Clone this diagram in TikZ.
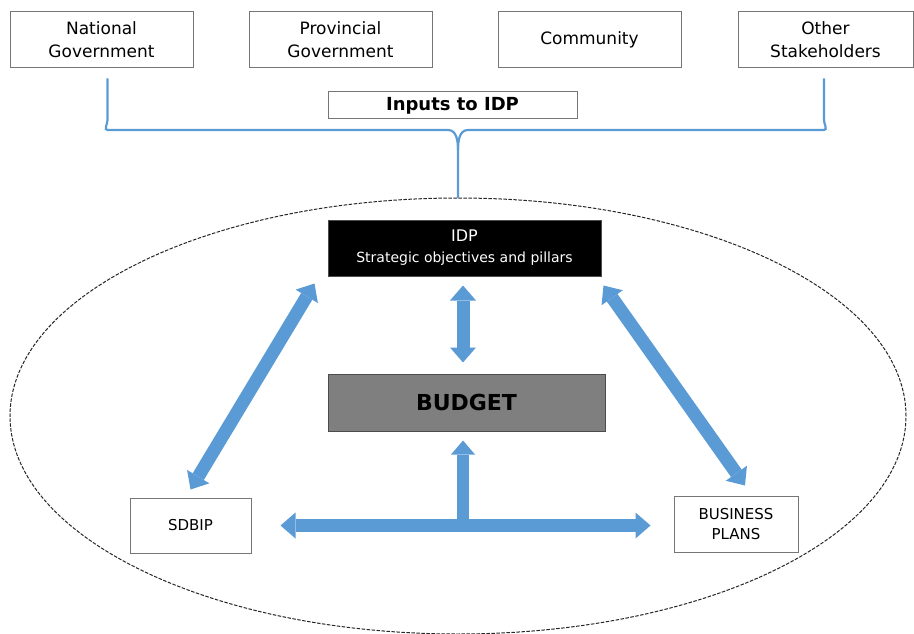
\documentclass[tikz,border=0pt]{standalone}
\usepackage{fontspec}
\setmainfont{DejaVu Sans}
\usetikzlibrary{arrows.meta}

\definecolor{linkblue}{HTML}{5B9BD5}
\definecolor{framegray}{HTML}{767676}
\definecolor{budgetgray}{HTML}{7F7F7F}

\tikzset{
  box/.style={draw=framegray, line width=1pt, fill=white, align=center, inner sep=0pt},
  fat/.style={draw=linkblue, line width=13pt,
    {Triangle[width=26pt,length=15pt,line width=0pt]}-{Triangle[width=26pt,length=15pt,line width=0pt]}},
  upfat/.style={draw=linkblue, line width=12pt, -{Triangle[width=24pt,length=14pt,line width=0pt]}},
}

\begin{document}
\begin{tikzpicture}[x=1pt,y=-1pt]
  \useasboundingbox (0,0) rectangle (914,634);

  % dashed ring round the planning cycle
  \draw[black!85, line width=1pt, dash pattern=on 3.5pt off 1.5pt] (458,416) ellipse (448pt and 218pt);

  % who feeds the IDP
  \node[box, minimum width=183pt, minimum height=56pt, font=\fontsize{17}{23}\selectfont] (nat) at (101.5,40) {National\\Government};
  \node[box, minimum width=183pt, minimum height=56pt, font=\fontsize{17}{23}\selectfont] (prov) at (340.5,40) {Provincial\\Government};
  \node[box, minimum width=183pt, minimum height=56pt, font=\fontsize{17}{23}\selectfont] (comm) at (589.5,40) {Community};
  \node[box, minimum width=175pt, minimum height=56pt, font=\fontsize{17}{23}\selectfont] (other) at (825.5,40) {Other\\Stakeholders};
  \node[box, minimum width=249pt, minimum height=27pt, font=\fontsize{18}{20}\selectfont\bfseries] (inputs) at (452.5,105.5) {Inputs to IDP};

  % the cycle itself
  \node[box, draw=black!70, fill=black, text=white, minimum width=273pt, minimum height=56pt,
    font=\fontsize{14}{21}\selectfont] (idp) at (464.5,248)
    {{\fontsize{16}{21}\selectfont IDP}\\Strategic objectives and pillars};
  \node[box, draw=black!70, fill=budgetgray, minimum width=277pt, minimum height=57pt, font=\fontsize{22}{26}\selectfont\bfseries] (budget) at (466.5,402.5) {BUDGET};
  \node[box, minimum width=121pt, minimum height=55pt, font=\fontsize{15}{20}\selectfont] (sdbip) at (190.5,525.5) {SDBIP};
  \node[box, minimum width=124pt, minimum height=56pt, font=\fontsize{15}{20}\selectfont] (bus) at (736,524) {BUSINESS\\PLANS};

  % brace gathering the inputs
  \coordinate (lft) at ([shift={(6,10)}]nat.south);
  \coordinate (rgt) at ([shift={(-1.5,10)}]other.south);
  \coordinate (fork) at (458,150);
  \coordinate (ring) at (458,198);
  \draw[linkblue, line width=2.2pt] (ring) -- (fork) to[out=90,in=0] (448,130) -- (lft |- 0,130)
      to[out=180,in=-90] (lft |- 0,120) -- (lft);
  \draw[linkblue, line width=2.2pt] (fork) to[out=90,in=180] (468,130) -- (rgt |- 0,130)
      to[out=0,in=-90] (rgt |- 0,120) -- (rgt);

  % links
  \coordinate (a) at ([shift={(-1.5,9)}]idp.south);
  \draw[fat] (a) -- ([yshift=11pt]a |- budget.north);
  \draw[fat] ([shift={(-13,7)}]idp.south west) -- ([shift={(0,-8)}]sdbip.north);
  \draw[fat] ([shift={(2,9)}]idp.south east) -- ([shift={(9,-10)}]bus.north);
  \draw[fat] ([xshift=29pt]sdbip.east) -- ([xshift=-23pt]sdbip.east -| bus.west);
  \coordinate (hub) at (463,523);
  \draw[upfat] (hub) -- ([yshift=-9pt]hub |- budget.south);
\end{tikzpicture}
\end{document}
